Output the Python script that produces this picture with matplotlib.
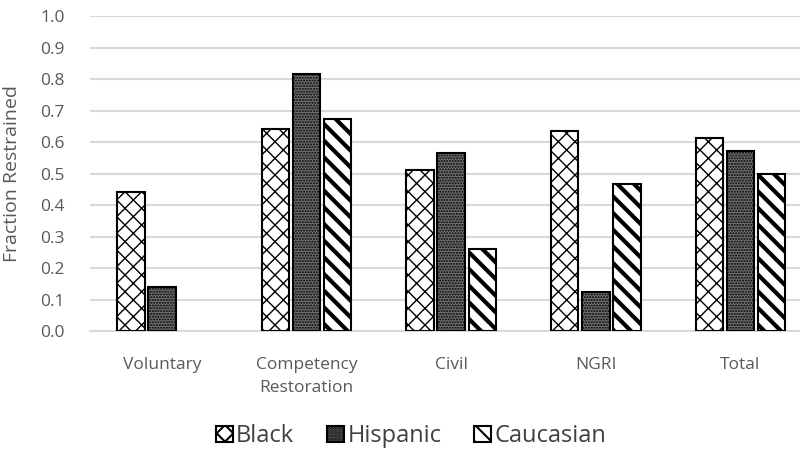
import matplotlib
matplotlib.use('Agg')
import matplotlib.pyplot as plt
from matplotlib.patches import Patch
import numpy as np

# Datos
categorias = ["Voluntary", "Competency\nRestoration", "Civil", "NGRI", "Total"]
black = [0.443, 0.642, 0.512, 0.634, 0.614]
hispanic = [0.139, 0.817, 0.565, 0.123, 0.572]
caucasian = [0.0, 0.673, 0.260, 0.468, 0.498]

plt.rcParams['font.family'] = ['Open Sans', 'DejaVu Sans']

fig = plt.figure(figsize=(8, 4.51), dpi=100)
ax = fig.add_axes([0.112, 0.266, 0.904, 0.698])

x = np.arange(len(categorias))
ancho = 0.19
paso = 0.215

series = [
    ("Black", black, "white", "xx", 1.0),
    ("Hispanic", hispanic, "#707070", "......", 1.0),
    ("Caucasian", caucasian, "white", "\\\\", 3.0),
]

handles = []
for i, (nombre, vals, fc, hatch, hlw) in enumerate(series):
    with plt.rc_context({'hatch.linewidth': hlw}):
        barras = ax.bar(x + (i - 1) * paso, vals, ancho, facecolor=fc,
                        edgecolor="black", hatch=hatch, linewidth=1.5,
                        zorder=3)
        # caucasian sin valor en Voluntary
        for b, v in zip(barras, vals):
            if v == 0:
                b.set_visible(False)
        handles.append(Patch(facecolor=fc, edgecolor="black", hatch=hatch,
                             linewidth=1.5, label=nombre))

ax.set_xlim(-0.5, len(categorias) - 0.5)
ax.set_ylim(0, 1.0)
ax.set_yticks(np.arange(0, 1.01, 0.1))
ax.set_yticklabels([f"{t:.1f}" for t in np.arange(0, 1.01, 0.1)])
ax.set_xticks(x)
ax.set_xticklabels(categorias, linespacing=1.55)
ax.tick_params(axis='both', length=0, labelsize=12.5, colors="#595959")
ax.tick_params(axis='x', pad=19)
ax.tick_params(axis='y', pad=18)

ax.yaxis.grid(True, color="#d9d9d9", linewidth=1.5, zorder=0)
for s in ["top", "right", "left"]:
    ax.spines[s].set_visible(False)
ax.spines["bottom"].set_color("#d9d9d9")
ax.spines["bottom"].set_linewidth(1.5)

ax.set_ylabel("Fraction Restrained", fontsize=14, color="#595959")
ax.yaxis.set_label_coords(-0.095, 0.5)

with plt.rc_context({'hatch.linewidth': 1.5}):
    fig.legend(handles=handles, loc="center", bbox_to_anchor=(0.514, 0.033),
               ncol=3, frameon=False, fontsize=17, handlelength=0.7,
               handleheight=0.7, handletextpad=0.15, columnspacing=1.4,
               labelcolor="#404040")

fig.savefig("out.png", dpi=100)
